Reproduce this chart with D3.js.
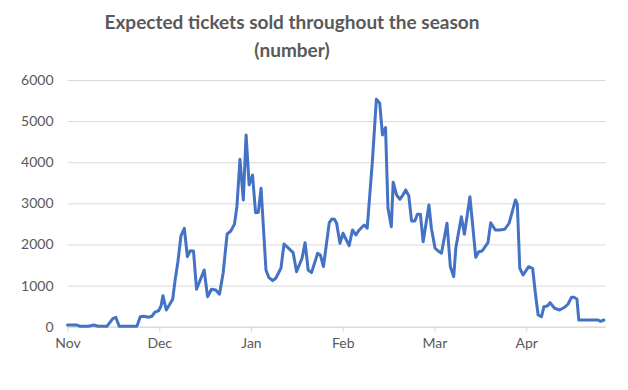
<!DOCTYPE html>
<html>
<head>
<meta charset="utf-8">
<script src="https://cdn.jsdelivr.net/npm/d3@7"></script>
<style>
  html, body { margin: 0; padding: 0; background: #ffffff; }
  svg { display: block; }
</style>
</head>
<body>
<svg id="chart" width="628" height="390"></svg>
<script>
// ---- data ----
const titleLines = ["Expected tickets sold throughout the season", "(number)"];
const monthLabels = ["Nov", "Dec", "Jan", "Feb", "Mar", "Apr"];
const monthStartDay = [0, 30, 60, 90, 120, 150];
const yTicks = [0, 1000, 2000, 3000, 4000, 5000, 6000];
// day of season (category position) for each vertex of the line
const days = [
  0, 3.1, 4.2, 6.9, 8.6, 10, 12.9, 14.8, 15.8, 16.9,
  22.7, 23.8, 24.9, 26.5, 27.6, 28.5, 29.8, 30.6, 31.2, 32.3,
  34.4, 35.2, 36.1, 37.1, 38.2, 39.2, 40.1, 41.2, 42.2, 44.7,
  45.8, 47.1, 48.5, 49.7, 50.9, 52.2, 53.4, 54.6, 55.4, 56.4,
  57.5, 58.4, 59.4, 60.5, 61.5, 62.4, 63.3, 64.9, 65.8, 67.1,
  68.1, 69.8, 70.8, 72.5, 73.8, 74.9, 76.7, 77.7, 78.7, 79.8,
  81.8, 82.7, 83.7, 85.6, 86.5, 87.3, 88.0, 89.1, 90.1, 92.1,
  93.2, 94.3, 95.4, 97.0, 98.0, 99.7, 101.0, 102.1, 103.0, 104.0,
  104.8, 105.9, 106.5, 107.6, 108.7, 109.5, 110.6, 111.6, 112.5, 113.6,
  114.4, 115.4, 116.3, 118.2, 119.0, 120.2, 121.2, 122.3, 124.1, 125.2,
  126.3, 127.0, 128.8, 129.8, 131.6, 133.5, 134.5, 135.6, 137.5, 138.4,
  139.9, 141.3, 143.0, 144.4, 146.5, 147.1, 147.9, 149.0, 150.8, 152.1,
  153.0, 153.9, 155.0, 155.8, 156.9, 157.8, 159.3, 160.9, 162.6, 163.7,
  164.8, 165.6, 166.6, 167.2, 173.5, 174.3, 175.4
];
const tickets = [
  40, 40, 10, 10, 40, 10, 10, 195, 230, 10,
  10, 243, 253, 229, 253, 350, 389, 504, 754, 406,
  667, 1136, 1582, 2207, 2394, 1703, 1847, 1842, 910, 1380,
  730, 912, 893, 791, 1307, 2255, 2328, 2494, 2920, 4073,
  3083, 4664, 3448, 3691, 2774, 2783, 3367, 1380, 1202, 1119,
  1178, 1421, 2012, 1891, 1800, 1338, 1664, 2044, 1380, 1314,
  1786, 1745, 1460, 2530, 2620, 2613, 2516, 2029, 2273, 1971,
  2353, 2231, 2353, 2474, 2394, 4015, 5533, 5436, 4664, 4842,
  2881, 2433, 3513, 3204, 3100, 3180, 3326, 3187, 2572, 2572,
  2735, 2735, 2068, 2961, 2394, 1908, 1842, 1786, 2516, 1460,
  1217, 1922, 2676, 2248, 3163, 1689, 1825, 1842, 2044, 2530,
  2353, 2353, 2370, 2516, 3083, 2978, 1421, 1258, 1460, 1421,
  813, 285, 243, 487, 504, 584, 448, 406, 472, 552,
  715, 715, 674, 163, 163, 131, 163
];
const lastDay = 176;

// ---- drawing ----
const svg = d3.select("#chart");
const fontFam = "Lato, 'Open Sans', 'DejaVu Sans', sans-serif";
const textColor = "#595959";
const gridColor = "#d9d9d9";

const x = d3.scaleLinear().domain([0, lastDay]).range([67.5, 605.7]);
const y = d3.scaleLinear().domain([0, 6000]).range([326.7, 80]);

// title
svg.append("g").selectAll("text")
  .data(titleLines)
  .join("text")
  .attr("x", 292)
  .attr("y", (d, i) => 29 + i * 28)
  .attr("text-anchor", "middle")
  .attr("font-family", fontFam)
  .attr("font-weight", 700)
  .attr("font-size", 19)
  .attr("fill", textColor)
  .text(d => d);

// y axis (gridlines + labels)
const yAxis = d3.axisLeft(y)
  .tickValues(yTicks)
  .tickSize(-(x.range()[1] - x.range()[0]))
  .tickPadding(14)
  .tickFormat(d3.format("d"));
const gy = svg.append("g")
  .attr("transform", `translate(${x.range()[0]},0)`)
  .call(yAxis);
gy.select(".domain").remove();
gy.selectAll(".tick line").attr("stroke", gridColor).attr("stroke-width", 1);
gy.selectAll(".tick text")
  .attr("font-family", fontFam)
  .attr("font-size", 14)
  .attr("fill", textColor);

// x axis
const xAxis = d3.axisBottom(x)
  .tickValues(monthStartDay)
  .tickSize(5)
  .tickPadding(6)
  .tickFormat((d, i) => monthLabels[i]);
const gx = svg.append("g")
  .attr("transform", `translate(0,${y(0)})`)
  .call(xAxis);
gx.select(".domain").attr("stroke", gridColor).attr("d", `M${x.range()[0]},0.5H${x.range()[1]}`);
gx.selectAll(".tick line").attr("stroke", gridColor);
gx.selectAll(".tick text")
  .attr("font-family", fontFam)
  .attr("font-size", 14)
  .attr("fill", textColor);

// line
const pts = days.map((d, i) => [d, tickets[i]]);
const line = d3.line().x(d => x(d[0])).y(d => y(d[1]));
svg.append("path")
  .datum(pts)
  .attr("d", line)
  .attr("fill", "none")
  .attr("stroke", "#4472C4")
  .attr("stroke-width", 3)
  .attr("stroke-linejoin", "round")
  .attr("stroke-linecap", "round");
</script>
</body>
</html>
